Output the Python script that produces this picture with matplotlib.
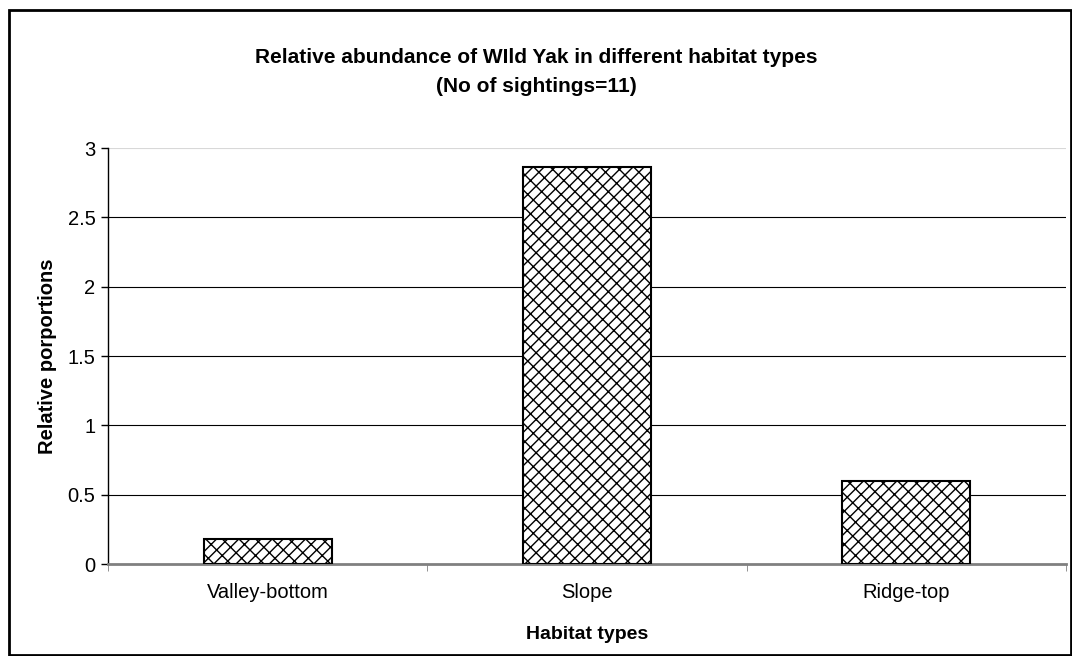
import matplotlib
matplotlib.use("Agg")
import matplotlib.pyplot as plt
from matplotlib.patches import Rectangle

habitats = ['Valley-bottom', 'Slope', 'Ridge-top']
proportions = [0.18, 2.86, 0.60]
yticks = [0, 0.5, 1, 1.5, 2, 2.5, 3]
yticklabels = ['0', '0.5', '1', '1.5', '2', '2.5', '3']

plt.rcParams['font.family'] = ['Liberation Sans', 'DejaVu Sans']
plt.rcParams['hatch.linewidth'] = 1.0

fig = plt.figure(figsize=(10.72, 6.56), dpi=100)
ax = fig.add_axes([108/1072, 1-564/656, (1066-108)/1072, (564-148)/656])

# border round the whole chart
fig.patches.append(Rectangle((9/1072, 1/656), 1062/1072, 645/656, transform=fig.transFigure,
                             fill=False, ec='black', lw=2))

x = range(len(habitats))
ax.bar(x, proportions, width=0.4, color='white', ec='black', lw=1.5, hatch='///\\\\', zorder=3)

ax.set_xlim(-0.5, 2.5)
ax.set_ylim(0, 3)
ax.set_yticks(yticks)
ax.set_yticklabels(yticklabels, fontsize=14.5)
ax.set_xticks(list(x))
ax.set_xticklabels(habitats, fontsize=14.5)
ax.set_xticks([-0.5, 0.5, 1.5, 2.5], minor=True)
ax.tick_params(axis='x', which='major', length=0, pad=14)
ax.tick_params(axis='x', which='minor', length=5, color='#808080')
ax.tick_params(axis='y', length=5, width=1, pad=4)

# gridlines, the top one is drawn lighter in the original
for yv in yticks[1:]:
    ax.axhline(yv, color='#d8d8d8' if yv == 3 else 'black', lw=0.8, zorder=0)
for s in ['top', 'right']:
    ax.spines[s].set_visible(False)
ax.spines['left'].set_linewidth(1)
ax.spines['bottom'].set_color('#808080')
ax.spines['bottom'].set_linewidth(2)

ax.set_xlabel('Habitat types', fontsize=14, fontweight='bold', labelpad=17)
ax.set_ylabel('Relative porportions', fontsize=14.5, fontweight='bold', labelpad=8)
fig.text(0.5, 1-72/656, 'Relative abundance of WIld Yak in different habitat types\n(No of sightings=11)',
         ha='center', va='center', fontsize=15, fontweight='bold', linespacing=1.7)

fig.savefig('out.png', dpi=100)
